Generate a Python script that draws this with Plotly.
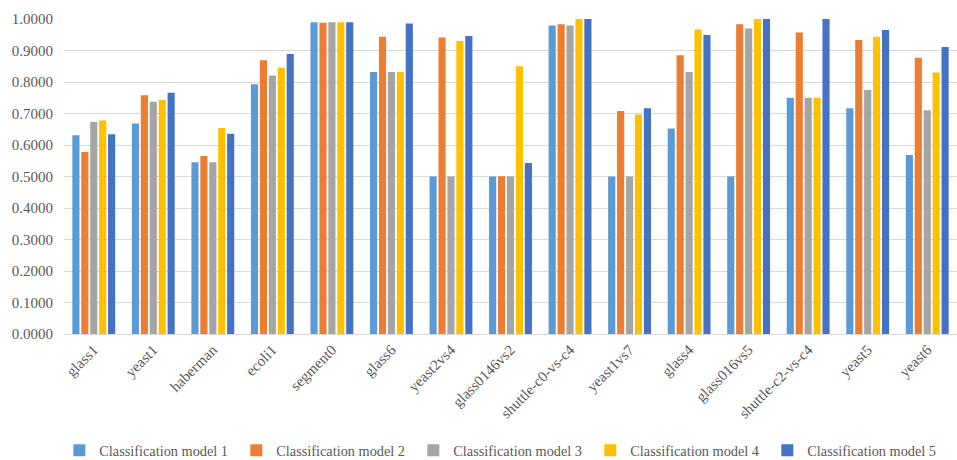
import plotly.graph_objects as go

datasets = ["glass1", "yeast1", "haberman", "ecoli1", "segment0", "glass6",
            "yeast2vs4", "glass0146vs2", "shuttle-c0-vs-c4", "yeast1vs7",
            "glass4", "glass016vs5", "shuttle-c2-vs-c4", "yeast5", "yeast6"]

model_1 = [0.6310, 0.6680, 0.5450, 0.7930, 0.9900, 0.8320, 0.5000, 0.5000,
           0.9790, 0.5000, 0.6520, 0.5000, 0.7500, 0.7170, 0.5680]
model_2 = [0.5780, 0.7580, 0.5650, 0.8690, 0.9880, 0.9440, 0.9410, 0.5010,
           0.9830, 0.7080, 0.8850, 0.9830, 0.9570, 0.9330, 0.8770]
model_3 = [0.6730, 0.7370, 0.5450, 0.8210, 0.9900, 0.8320, 0.5000, 0.5000,
           0.9790, 0.5000, 0.8320, 0.9700, 0.7500, 0.7750, 0.7100]
model_4 = [0.6780, 0.7430, 0.6540, 0.8450, 0.9900, 0.8320, 0.9300, 0.8500,
           1.0000, 0.6970, 0.9670, 1.0000, 0.7500, 0.9440, 0.8300]
model_5 = [0.6340, 0.7660, 0.6360, 0.8890, 0.9900, 0.9860, 0.9460, 0.5430,
           1.0000, 0.7170, 0.9490, 1.0000, 1.0000, 0.9650, 0.9110]

series_names = ["Classification model 1", "Classification model 2",
                "Classification model 3", "Classification model 4",
                "Classification model 5"]
series_values = [model_1, model_2, model_3, model_4, model_5]
colors = ["#5B9BD5", "#ED7D31", "#A5A5A5", "#FFC000", "#4472C4"]

fig = go.Figure()
for name, vals, col in zip(series_names, series_values, colors):
    fig.add_trace(go.Bar(x=datasets, y=vals, name=name,
                         marker=dict(color=col, line=dict(width=0))))

font_family = "'Liberation Serif', 'Times New Roman', serif"
text_color = "#595959"
fig.update_layout(
    width=957, height=460,
    barmode="group", bargap=0.25, bargroupgap=0.2,
    plot_bgcolor="white", paper_bgcolor="white",
    margin=dict(l=64, r=0, t=19, b=126, autoexpand=False),
    font=dict(family=font_family, size=15, color=text_color),
    legend=dict(orientation="h", xref="container", x=0.062, xanchor="left",
                yref="paper", y=-0.37, yanchor="middle",
                font=dict(family=font_family, size=14.3, color=text_color),
                itemwidth=30, entrywidth=132, entrywidthmode="pixels",
                traceorder="normal"),
)
fig.update_yaxes(range=[0, 1.0], dtick=0.1, tickformat=".4f",
                 showgrid=True, gridcolor="#D9D9D9", gridwidth=1.3,
                 zeroline=False, showline=False, ticks="",
                 ticklabelstandoff=10,
                 tickfont=dict(family=font_family, size=15, color=text_color))
fig.update_xaxes(tickangle=-45, showline=True, linecolor="#D9D9D9",
                 linewidth=1.3, ticks="",
                 tickfont=dict(family=font_family, size=15, color=text_color))

fig.write_html("out.html")
